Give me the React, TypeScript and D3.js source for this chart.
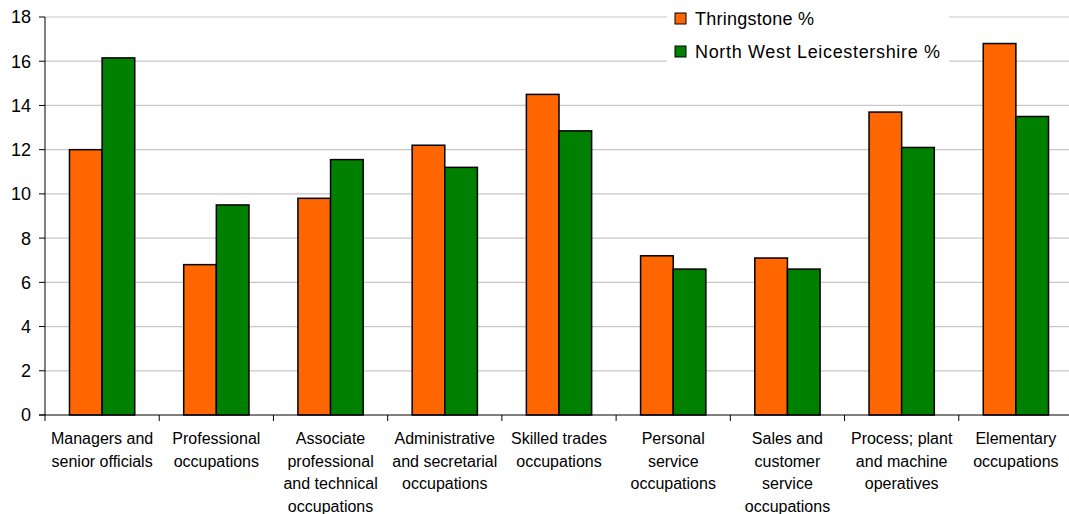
import React from "react";
import * as d3 from "d3";

const categories: string[][] = [
  ["Managers and", "senior officials"],
  ["Professional", "occupations"],
  ["Associate", "professional", "and technical", "occupations"],
  ["Administrative", "and secretarial", "occupations"],
  ["Skilled trades", "occupations"],
  ["Personal", "service", "occupations"],
  ["Sales and", "customer", "service", "occupations"],
  ["Process; plant", "and machine", "operatives"],
  ["Elementary", "occupations"],
];
const thringstone = [12.0, 6.8, 9.8, 12.2, 14.5, 7.2, 7.1, 13.7, 16.8];
const nwLeics = [16.15, 9.5, 11.55, 11.2, 12.85, 6.6, 6.6, 12.1, 13.5];
const seriesNames = ["Thringstone %", "North West Leicestershire %"];
const seriesColors = ["#FF6600", "#008000"];
const yTicks = [0, 2, 4, 6, 8, 10, 12, 14, 16, 18];

export default function App() {
  const W = 1069, H = 514;
  const left = 45, right = 1073, top = 17, bottom = 415;
  const x = d3.scaleBand<number>().domain(d3.range(categories.length)).range([left, right]).paddingInner(0).paddingOuter(0);
  const bw = x.bandwidth();
  const barW = bw / 3.5;
  const y = d3.scaleLinear().domain([0, 18]).range([bottom, top]);
  const font = "'Liberation Sans', Arial, sans-serif";
  const series = [thringstone, nwLeics];
  const legendWidths = [119, 245];

  return (
    <svg width={W} height={H} style={{ position: "absolute", left: 0, top: 0, background: "#fff" }} fontFamily={font}>
      <rect x={0} y={0} width={W} height={H} fill="#fff" />
      {yTicks.map((t) => (
        <g key={t}>
          {t > 0 && <line x1={left} x2={right} y1={y(t)} y2={y(t)} stroke="#c8c8c8" strokeWidth={1.2} />}
          <line x1={left - 6} x2={left} y1={y(t)} y2={y(t)} stroke="#000" strokeWidth={1} />
          <text x={left - 14} y={y(t)} dy="0.36em" textAnchor="end" fontSize={18} fill="#000">{t}</text>
        </g>
      ))}
      {categories.map((_, i) =>
        series.map((s, j) => (
          <rect
            key={`${i}-${j}`}
            x={(x(i) as number) + barW * 0.75 + j * barW}
            y={y(s[i])}
            width={barW}
            height={bottom - y(s[i])}
            fill={seriesColors[j]}
            stroke="#000"
            strokeWidth={1.5}
          />
        ))
      )}
      <line x1={left} x2={left} y1={top} y2={bottom} stroke="#000" strokeWidth={1} />
      <line x1={left - 6} x2={right} y1={bottom} y2={bottom} stroke="#000" strokeWidth={1} />
      {d3.range(categories.length + 1).map((i) => (
        <line key={i} x1={left + i * bw} x2={left + i * bw} y1={bottom} y2={bottom + 6} stroke="#000" strokeWidth={1} />
      ))}
      {categories.map((lines, i) => (
        <text key={i} textAnchor="middle" fontSize={16} fill="#000">
          {lines.map((ln, k) => (
            <tspan key={k} x={(x(i) as number) + bw / 2} y={444 + k * 22.6}>{ln}</tspan>
          ))}
        </text>
      ))}
      <rect x={667} y={0} width={282} height={64} fill="#fff" />
      {seriesNames.map((n, j) => (
        <g key={n}>
          <rect x={675} y={13 + j * 33} width={11} height={11} fill={seriesColors[j]} stroke="#000" strokeWidth={1} />
          <text x={695} y={25 + j * 33} fontSize={18} fill="#000" textLength={legendWidths[j]} lengthAdjust="spacing">{n}</text>
        </g>
      ))}
    </svg>
  );
}
